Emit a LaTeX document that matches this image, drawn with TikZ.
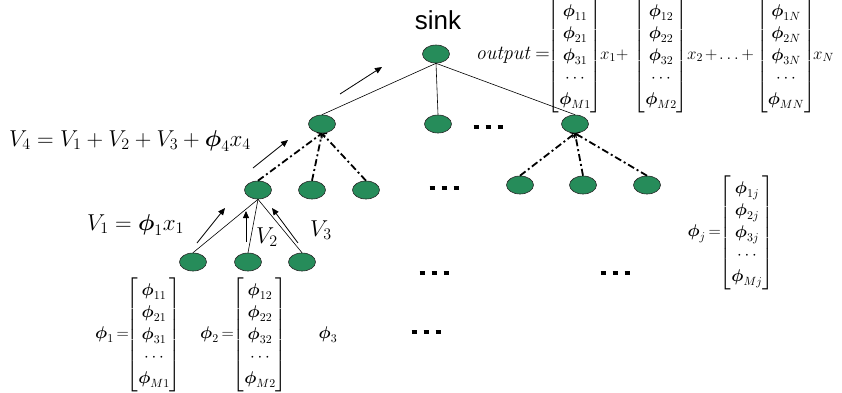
\RequirePackage{fix-cm}
\documentclass[tikz,border=0pt]{standalone}
\usepackage{amsmath}
\usepackage{fontspec}
\usetikzlibrary{shapes.geometric,arrows.meta}
\newfontfamily\labelsans{Liberation Sans}
\definecolor{nodegreen}{RGB}{38,140,90}
% column vector of coefficients phi_{1k} ... phi_{Mk}
\newcommand\phicol[1]{\begin{bmatrix}\boldsymbol\phi_{1#1}\\ \boldsymbol\phi_{2#1}\\ \boldsymbol\phi_{3#1}\\ \cdots\\ \boldsymbol\phi_{M#1}\end{bmatrix}}
% three square dots
\newcommand\sqdots{\rule{5pt}{3.5pt}\hspace{7pt}\rule{5pt}{3.5pt}\hspace{7pt}\rule{5pt}{3.5pt}}
% tight operator spacing for the vector formulas
\newcommand\tightmath{\thickmuskip=3mu plus 1mu\medmuskip=2mu plus 1mu}
\tikzset{
  sensor/.style={ellipse, draw=black!85, fill=nodegreen, line width=0.6pt,
    minimum width=27pt, minimum height=18pt, inner sep=0pt},
  tree/.style={line width=0.6pt},
  relay/.style={line width=1.8pt, dash pattern=on 7pt off 3pt on 2pt off 3pt,
    -{Straight Barb[length=3pt,width=7pt,line width=1pt]}},
  flow/.style={line width=0.8pt, -{Triangle[length=7pt,width=6pt]}},
  eq/.style={inner sep=0pt, font=\fontsize{23}{26}\selectfont},
  vec/.style={inner sep=0pt, font=\fontsize{17}{22}\selectfont\tightmath},
  outtext/.style={inner sep=0pt, font=\fontsize{20}{22}\selectfont},
  gap/.style={inner sep=0pt, font=\fontsize{10}{10}\selectfont}
}
\begin{document}
\begin{tikzpicture}[x=1pt,y=-1pt]
\useasboundingbox[fill=white] (0,0) rectangle (842,392);

% sensor nodes
\node[sensor] (sink) at (436,54) {};
\node[sensor] (a) at (322,124) {};
\node[sensor] (b) at (438,124) {};
\node[sensor] (c) at (575,124) {};
\node[sensor] (d) at (258,190) {};
\node[sensor] (e) at (312,190) {};
\node[sensor] (f) at (366,190) {};
\node[sensor] (g) at (520,185) {};
\node[sensor] (h) at (583,185) {};
\node[sensor] (i) at (647,185) {};
\node[sensor] (j) at (193,262) {};
\node[sensor] (k) at (248,262) {};
\node[sensor] (l) at (302,262) {};

\node[font=\labelsans\fontsize{26}{28}\selectfont, inner sep=0pt] (sinklabel) at (438,20) {sink};

% tree links
\draw[tree] (sink.south) -- (a.north);
\draw[tree] (sink.south) -- (b.north);
\draw[tree] (sink.south) -- (c.north);
\draw[tree] (d.south) -- (j.north);
\draw[tree] (d.south) -- (k.north);
\draw[tree] (d.south) -- (l.north);
\draw[relay] (d.north) -- (a.south);
\draw[relay] (e.north) -- (a.south);
\draw[relay] (f.north) -- (a.south);
\draw[relay] (g.north) -- (c.south);
\draw[relay] (h.north) -- (c.south);
\draw[relay] (i.north) -- (c.south);

% aggregation flow arrows
\coordinate (f0s) at (340,94);  \coordinate (f0e) at (382,67);
\coordinate (f4s) at (253,168); \coordinate (f4e) at (288,140);
\coordinate (f1s) at (197,243); \coordinate (f1e) at (225,208);
\coordinate (f2s) at (246,242); \coordinate (f2e) at (246,211);
\coordinate (f3s) at (298,243); \coordinate (f3e) at (272,208);
\draw[flow] (f0s) -- (f0e);
\draw[flow] (f4s) -- (f4e);
\draw[flow] (f1s) -- (f1e);
\draw[flow] (f2s) -- (f2e);
\draw[flow] (f3s) -- (f3e);

% continuation dots
\node[gap] (dots1) at (488,127) {\sqdots};
\node[gap] (dots2) at (444,188) {\sqdots};
\node[gap] (dots3) at (434,273) {\sqdots};
\node[gap] (dots4) at (615,273) {\sqdots};
\node[gap] (dots5) at (426,332) {\sqdots};

% partial sums
\node[eq, anchor=mid west] (v4) at (9,144) {$V_4 = V_1 + V_2 + V_3 + \boldsymbol\phi_4 x_4$};
\node[eq, anchor=mid west] (v1) at (87,228) {$V_1 = \boldsymbol\phi_1 x_1$};
\node[eq] (v2) at (267,237) {$V_2$};
\node[eq] (v3) at (321,230) {$V_3$};

% output at the sink
\node[outtext, anchor=mid east] (outlbl) at (550,57) {$\mathit{output} =$};
\node[vec] (m1) at (575,56) {$\phicol{1}$};
\node[vec, anchor=mid west] (x1) at (600,57) {$x_1 +$};
\node[vec] (m2) at (661,56) {$\phicol{2}$};
\node[vec, anchor=mid west] (x2) at (687,57) {$x_2 + \ldots +$};
\node[vec] (m3) at (786,56) {$\phicol{N}$};
\node[vec, anchor=mid west] (xn) at (813,57) {$x_N$};

% coefficient vectors
\node[vec, anchor=mid east] (p1lbl) at (129,336) {$\boldsymbol\phi_1 =$};
\node[vec] (p1) at (154,335) {$\phicol{1}$};
\node[vec, anchor=mid east] (p2lbl) at (234,336) {$\boldsymbol\phi_2 =$};
\node[vec] (p2) at (260,335) {$\phicol{2}$};
\node[vec] (p3) at (328,335) {$\boldsymbol\phi_3$};
\node[vec, anchor=mid east] (pjlbl) at (721,234) {$\boldsymbol\phi_j =$};
\node[vec] (pj) at (747,233) {$\phicol{j}$};
\end{tikzpicture}
\end{document}
